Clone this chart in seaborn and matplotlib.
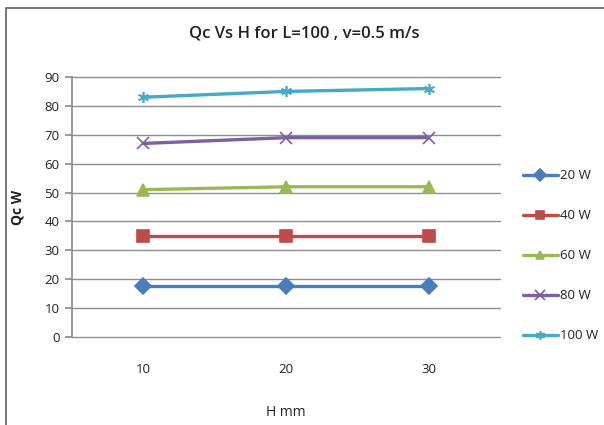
import matplotlib
matplotlib.use("Agg")
import matplotlib.pyplot as plt
import seaborn as sns
import pandas as pd
from matplotlib.patches import Rectangle

h_mm = ["10", "20", "30"]
series_names = ["20 W", "40 W", "60 W", "80 W", "100 W"]
q20 = [17.5, 17.5, 17.5]
q40 = [35, 35, 35]
q60 = [51, 52, 52]
q80 = [67, 69, 69]
q100 = [83, 85, 86]

values = [q20, q40, q60, q80, q100]

sns.set_theme(style="white")
plt.rcParams['font.family'] = ['Open Sans', 'DejaVu Sans']

colors = ["#4A7EBB", "#BE4B48", "#98B954", "#7D60A0", "#46AAC5"]
markers = ["D", "s", "^", "x", (6, 2, 0)]

fig = plt.figure(figsize=(6.04, 4.25), dpi=100)
ax = fig.add_axes([72/604, 1-337/425, (500-72)/604, (337-77)/425])

for name, vals, c, m in zip(series_names, values, colors, markers):
    d = pd.DataFrame({"H": h_mm, "Qc": vals})
    sns.lineplot(data=d, x="H", y="Qc", color=c, marker=m, linewidth=2.4,
                 markersize=8 if m != "x" else 9, markeredgewidth=1.2,
                 markeredgecolor=c, ax=ax, sort=False, label=name)

ax.set_xlim(-0.5, 2.5)
ax.set_ylim(0, 90)
ax.set_yticks(range(0, 91, 10))
ax.grid(axis="y", color="#8c8c8c", linewidth=1)
ax.grid(axis="x", visible=False)
for gl in ax.get_ygridlines():
    gl.set_clip_on(False)
for s in ["top", "right", "bottom"]:
    ax.spines[s].set_visible(False)
ax.spines["left"].set_color("#8c8c8c")
ax.tick_params(axis="y", left=True, length=5, color="#8c8c8c", labelsize=9.5, pad=4, labelcolor="#222222")
ax.tick_params(axis="x", bottom=False, labelsize=9.5, pad=13, labelcolor="#222222")
ax.set_xlabel("H mm", fontsize=10, color="#222222")
ax.xaxis.set_label_coords(0.5, -(412-337)/260, transform=ax.transAxes)
ax.xaxis.label.set_va("center")
ax.set_ylabel("Qc W", fontsize=10, fontweight="bold", labelpad=14, color="#222222")

fig.suptitle("Qc Vs H for L=100 , v=0.5 m/s", x=304/604, y=1-33/425, va="center",
             fontsize=12, fontweight="semibold", color="#222222")

leg = ax.legend(loc="upper left", bbox_to_anchor=(518/604, 1-164/425), bbox_transform=fig.transFigure,
                frameon=False, fontsize=9.5, labelspacing=2.05, handlelength=2.6, handletextpad=0.2,
                borderaxespad=0, markerscale=0.8)
for t in leg.get_texts():
    t.set_color("#222222")

fig.patches.append(Rectangle((6/604, -0.05), 1.05, 1-8/425+0.05, transform=fig.transFigure,
                             fill=False, edgecolor="#606060", linewidth=1.2))

fig.savefig("out.png", dpi=100)
